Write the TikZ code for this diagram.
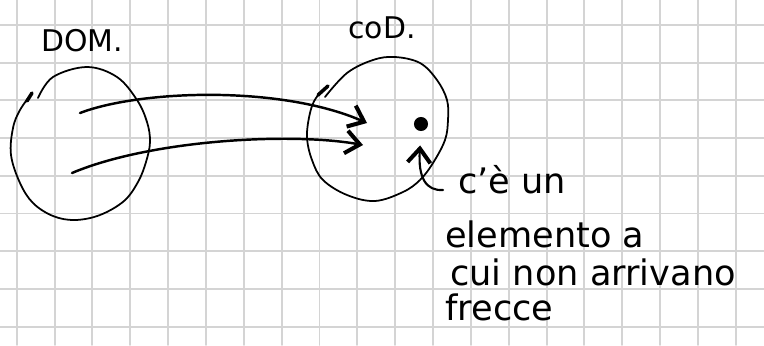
\documentclass[tikz,border=0pt]{standalone}
\usepackage{fontspec}
\setmainfont{DejaVu Sans}
\usetikzlibrary{arrows.meta,positioning}

\begin{document}
\begin{tikzpicture}[x=0.02cm,y=-0.02cm,line cap=round,line join=round,
  sheet/.style={draw=black!17,line width=1.1pt},
  setline/.style={draw=black,line width=1pt},
  mapsto/.style={draw=black,line width=1.4pt,-{Straight Barb[length=8pt,width=13pt,line width=2.3pt]}},
  title/.style={font=\fontsize{17}{20}\selectfont,inner sep=0pt},
  note/.style={font=\fontsize{20}{24}\selectfont,inner sep=0pt,anchor=base west},
  elemdot/.style={circle,fill=black,inner sep=0pt,minimum size=8pt}]
\useasboundingbox (0,0) rectangle (764,345);
\fill[white] (0,0) rectangle (764,345);
% squared paper
\foreach \k in {0,...,19} \draw[sheet] ({16.7+37.85*\k},0) -- ({16.7+37.85*\k},345);
\foreach \k in {0,...,8} \draw[sheet] (0,{25+37.7*\k}) -- (764,{25+37.7*\k});
% domain and codomain
\draw[setline] plot[smooth,tension=0.6] coordinates {(38,98) (53,77) (87,67) (117,77) (137,100) (147,122) (150,142) (146,162) (138,182) (124,201) (100,215) (75,220) (53,216) (33,203) (20,183) (11,155) (13,128) (20,110) (32,93)};
\draw[setline,line width=2pt] (27,101) -- (32,93);
\draw[setline] plot[smooth,tension=0.6] coordinates {(325,97) (347,73) (373,60) (395,57) (420,63) (437,80) (447,100) (448,120) (445,140) (433,163) (420,180) (403,192) (375,201) (347,195) (323,180) (312,160) (307,137) (310,113) (316,98) (328,86)};
\draw[setline,line width=2pt] (318,95) -- (328,86);
\node[title] (dom) at (82,41) {DOM.};
\node[title] (cod) at (382,28) {coD.};
% the map
\coordinate (d1) at (80,113);
\coordinate (c1) at (367,123);
\coordinate (d2) at (72,173);
\coordinate (c2) at (363,145);
\draw[mapsto] (d1) .. controls (140,90) and (280,85) .. (c1);
\draw[mapsto] (d2) .. controls (150,140) and (290,132) .. (c2);
% element with no arrows
\node[elemdot] (elem) at (421,124) {};
\node[note] (l1) at (458,193) {c'è un};
\node[note] (l2) at (445,247) {elemento a};
\node[note] (l3) at (450,285) {cui non arrivano};
\node[note] (l4) at (445,320) {frecce};
\coordinate (hook) at (443,190);
\draw[mapsto,line width=1.2pt,shorten >=8pt] (hook) .. controls (426,191) and (418,178) .. (elem.south);
\end{tikzpicture}
\end{document}
